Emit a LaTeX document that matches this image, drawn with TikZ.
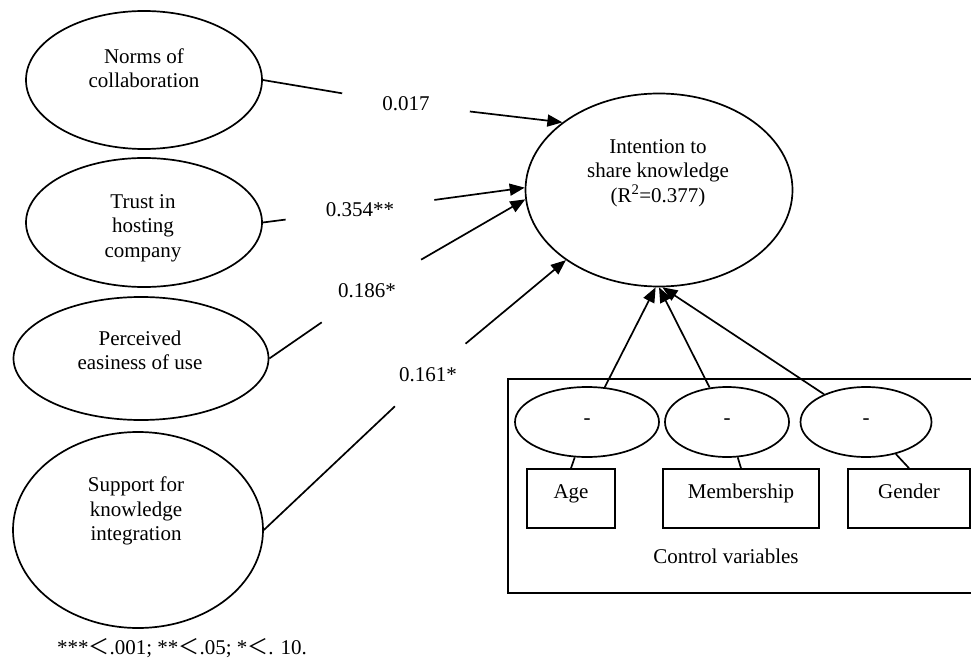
\documentclass[tikz,border=0pt]{standalone}
\usepackage{fontspec}
\setmainfont{Liberation Serif}
\newfontfamily\cjk{Noto Sans CJK SC}
\newcommand{\figfont}{\fontsize{21}{24.5}\selectfont}
\usetikzlibrary{arrows.meta,shapes.geometric}
\tikzset{
  construct/.style={draw,ellipse,line width=1.7pt,inner sep=0pt},
  dummy/.style={construct,minimum height=70pt},
  var/.style={draw,line width=1.7pt,minimum height=59pt,inner sep=0pt,
              text height=10pt,text depth=10pt},
  txt/.style={align=center,inner sep=0pt},
  coef/.style={inner xsep=40pt,inner ysep=24pt},
  link/.style={line width=1.7pt},
  arr/.style={-{Triangle[length=15pt,width=12pt]},line width=1.7pt},
}
\begin{document}
\begin{tikzpicture}[x=1pt,y=-1pt,font=\figfont]
    \useasboundingbox (0,0) rectangle (971,660);
    \node[construct,minimum width=236pt,minimum height=138pt] (norms) at (144,80) {};
    \node[construct,minimum width=236pt,minimum height=129pt] (trust) at (144,222.5) {};
    \node[construct,minimum width=255pt,minimum height=123pt] (ease) at (141,358.5) {};
    \node[construct,minimum width=250pt,minimum height=196pt] (support) at (138,530) {};
    \node[construct,minimum width=267pt,minimum height=193pt] (intent) at (659,190) {};
    \node[txt] (norms-t) at (144,68) {Norms of\\collaboration};
    \node[txt] (trust-t) at (143,228) {Trust in\\hosting\\company};
    \node[txt] (ease-t) at (140,350.5) {Perceived\\easiness of use};
    \node[txt] (support-t) at (136,511) {Support for\\knowledge\\integration};
    \node[txt] (intent-t) at (658,173) {Intention to\\share knowledge\\(R\textsuperscript{2}=0.377)};
    \node[coef] (l017) at (406,104) {0.017};
    \node[coef] (l354) at (360,210) {0.354**};
    \node[coef] (l186) at (367,291) {0.186*};
    \node[coef] (l161) at (428,375) {0.161*};
    \draw[link] (norms.east) -- (l017);
    \draw[arr] (l017) -- (intent.145);
    \draw[link] (trust.east) -- (l354);
    \draw[arr] (l354) -- (intent.179);
    \draw[link] (ease.east) -- (l186);
    \draw[arr] (l186) -- (intent.184);
    \draw[link] (support.east) -- (l161);
    \draw[arr] (l161) -- (intent.217);
    \node[draw,line width=1.7pt,minimum width=470pt,minimum height=214pt,
          anchor=north west,inner sep=0pt] (ctrlbox) at (507,378) {};
    \node[dummy,minimum width=144pt] (age-e) at (587,422) {-};
    \node[dummy,minimum width=124pt] (member-e) at (727,422) {-};
    \node[dummy,minimum width=131pt] (gender-e) at (866,422) {-};
    \node[var,minimum width=88pt] (age) at (571,498.5) {Age};
    \node[var,minimum width=156pt] (member) at (741,498.5) {Membership};
    \node[var,minimum width=122pt] (gender) at (909,498.5) {Gender};
    \node[txt,anchor=base] (ctrl-t) at (726,563) {Control variables};
    \draw[link] (age-e) -- (age.north);
    \draw[link] (member-e) -- (member.north);
    \draw[link] (gender-e) -- (gender.north);
    \draw[arr] (age-e) -- (intent.268);
    \draw[arr] (member-e) -- (intent.270);
    \draw[arr] (gender-e) -- (intent.272);
    \node[txt,anchor=base] (note) at (182,654) {***{\cjk ＜}.001; **{\cjk ＜}.05; *{\cjk ＜}. 10.};
\end{tikzpicture}
\end{document}
